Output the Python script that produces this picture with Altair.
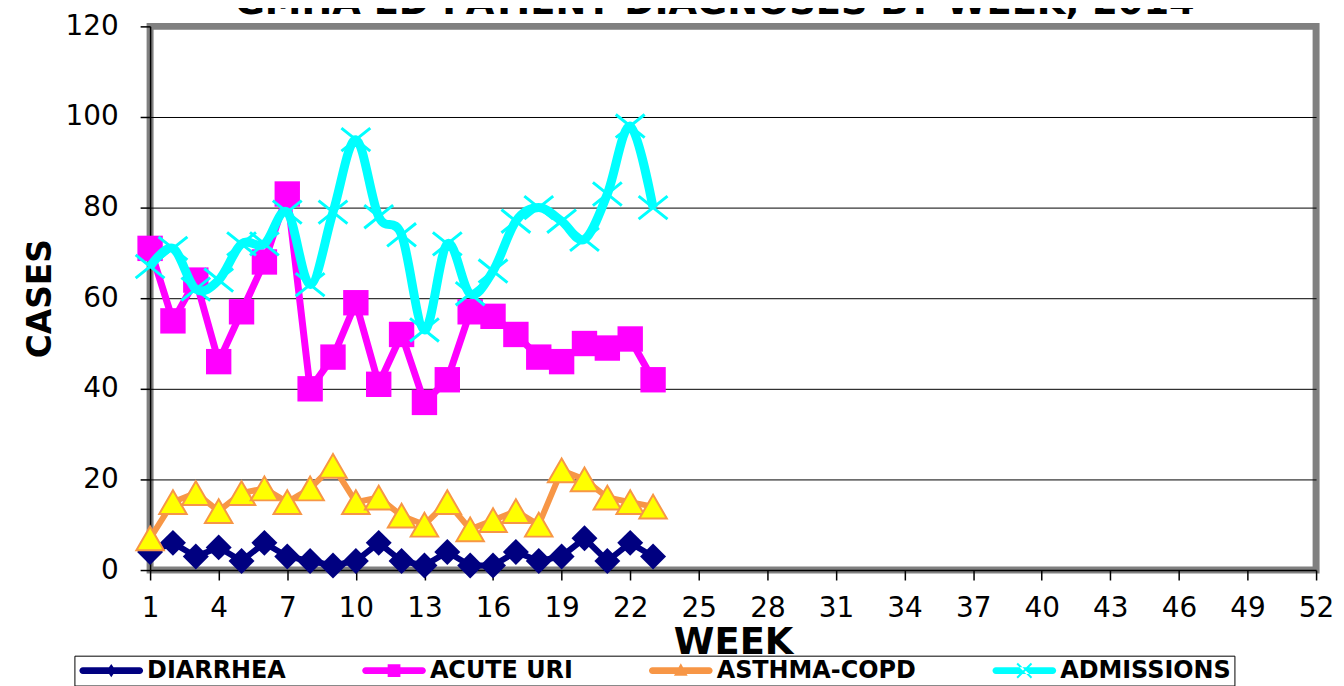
import altair as alt
import pandas as pd

# ---------------- data ----------------
weeks = list(range(1, 24))
diarrhea = [4, 6, 3, 5, 2, 6, 3, 2, 1, 2, 6, 2, 1, 4, 1, 1, 4, 2, 3, 7, 2, 6, 3]
acute_uri = [71, 55, 64, 46, 57, 68, 83, 40, 47, 59, 41, 52, 37, 42, 57, 56, 52, 47, 46, 50, 49, 51, 42]
asthma_copd = [7, 15, 17, 13, 17, 18, 15, 18, 23, 15, 16, 12, 10, 15, 9, 11, 13, 10, 22, 20, 16, 15, 14]
admissions = [67, 71, 62, 64, 72, 72, 79, 63, 79, 95, 78, 74, 53, 72, 61, 66, 77, 80, 77, 73, 83, 98, 80]

series_names = ["DIARRHEA", "ACUTE URI", "ASTHMA-COPD", "ADMISSIONS"]
x_ticks = list(range(1, 53, 3))
y_ticks = [0, 20, 40, 60, 80, 100, 120]
title_text = "GMHA ED PATIENT DIAGNOSES BY WEEK, 2014"

rows = []
for name, vals in zip(series_names, [diarrhea, acute_uri, asthma_copd, admissions]):
    for w, v in zip(weeks, vals):
        rows.append({"week": w, "series": name, "cases": v})
df = pd.DataFrame(rows)
title_df = pd.DataFrame({"title": [title_text]})

# ---------------- styles ----------------
FONT = "DejaVu Sans"
NAVY = "#000080"
MAGENTA = "#FF00FF"
ORANGE = "#F79646"
YELLOW = "#FFFF00"
CYAN = "#00FFFF"
X_PATH = "M-1,-0.8L1,0.8M-1,0.8L1,-0.8"

x_enc = alt.X(
    "week:Q",
    scale=alt.Scale(domain=[1, 52], nice=False, zero=False),
    axis=alt.Axis(
        values=x_ticks, grid=False, title="WEEK",
        labelFont=FONT, labelFontSize=28, labelColor="black", labelPadding=15,
        labelFlush=False, labelOverlap=False,
        tickColor="black", tickSize=10, tickWidth=1.5,
        domainColor="black", domainWidth=1.5,
        titleFont=FONT, titleFontSize=37, titleFontWeight="bold", titleColor="black",
        titlePadding=2,
    ),
)
y_enc = alt.Y(
    "cases:Q",
    scale=alt.Scale(domain=[0, 120], nice=False),
    axis=alt.Axis(
        values=y_ticks, grid=True, gridColor="black", gridWidth=1,
        gridOpacity={"condition": {"test": "datum.value == 0 || datum.value == 120", "value": 0}, "value": 1},
        labelFont=FONT, labelFontSize=28, labelColor="black", labelPadding=22,
        labelFlush=False, labelOverlap=False,
        tickColor="black", tickSize=10, tickWidth=1.5,
        domainColor="black", domainWidth=1.5,
        title="CASES", titleFont=FONT, titleFontSize=33, titleFontWeight="bold",
        titleColor="black", titlePadding=8,
    ),
)

base = alt.Chart(df).encode(x=x_enc, y=y_enc)


def sel(name):
    return alt.datum.series == name


# ---------------- legend (symbols = line + marker) ----------------
LINE = "M-2.85,-0.35L2.85,-0.35A0.35,0.35 0 0 1 2.85,0.35L-2.85,0.35A0.35,0.35 0 0 1 -2.85,-0.35Z"
legend_paths = [
    LINE + "M0,-0.67L0.45,0L0,0.67L-0.45,0Z",
    LINE + "M-0.64,-0.64L0.64,-0.64L0.64,0.64L-0.64,0.64Z",
    LINE + "M0,-0.75L0.69,0.51L-0.69,0.51Z",
    LINE + "M-0.79,-0.65L0.65,0.79L0.79,0.65L-0.65,-0.79Z"
           "M0.79,-0.65L-0.65,0.79L-0.79,0.65L0.65,-0.79Z",
]
legend_fill = [NAVY, MAGENTA, ORANGE, CYAN]

leg = alt.Legend(
    title=None, orient="none", legendX=-76, legendY=632,
    direction="horizontal", columns=4, columnPadding=74,
    symbolSize=400, symbolStrokeWidth=0, symbolOffset=22, labelOffset=24,
    labelFont=FONT, labelFontSize=24, labelFontWeight="bold", labelColor="black",
    labelLimit=400, padding=3, strokeColor="black", fillColor="white",
)

legend_layer = alt.Chart(df).transform_filter("datum.week > 100").mark_point(
    filled=True, size=400, opacity=1
).encode(
    color=alt.Color("series:N", scale=alt.Scale(domain=series_names, range=legend_fill), legend=leg),
    shape=alt.Shape("series:N", scale=alt.Scale(domain=series_names, range=legend_paths), legend=leg),
)

layers = [
    base.transform_filter(sel("DIARRHEA")).mark_line(color=NAVY, strokeWidth=6),
    base.transform_filter(sel("DIARRHEA")).mark_point(
        shape="diamond", filled=True, color=NAVY, size=680, opacity=1),
    base.transform_filter(sel("ACUTE URI")).mark_line(color=MAGENTA, strokeWidth=7),
    base.transform_filter(sel("ACUTE URI")).mark_point(
        shape="square", filled=True, color=MAGENTA, size=650, opacity=1),
    base.transform_filter(sel("ASTHMA-COPD")).mark_line(color=ORANGE, strokeWidth=6),
    base.transform_filter(sel("ASTHMA-COPD")).mark_point(
        shape="triangle-up", filled=True, fill=YELLOW, stroke=ORANGE, strokeWidth=2,
        size=760, opacity=1),
    base.transform_filter(sel("ADMISSIONS")).mark_line(
        color=CYAN, strokeWidth=9, interpolate="cardinal"),
    base.transform_filter(sel("ADMISSIONS")).mark_point(
        shape=X_PATH, filled=False, stroke=CYAN, strokeWidth=3, size=841, opacity=1),
    legend_layer,
    # chart title above the plot frame; its top is cut off by the page edge as in the reference
    alt.Chart(title_df).mark_text(
        font=FONT, fontSize=37, fontWeight="bold", color="black",
        align="center", baseline="alphabetic",
    ).encode(text="title:N", x=alt.value(567), y=alt.value(-12)),
]

chart = alt.layer(*layers).properties(
    width=1171, height=546,
    view=alt.ViewBackground(stroke="#808080", strokeWidth=7),
    autosize=alt.AutoSizeParams(type="none"),
    padding={"left": 142.7, "top": 17, "right": 20, "bottom": 115},
    background="white",
)

chart.save("out.html", embed_options={"renderer": "svg", "actions": False})
